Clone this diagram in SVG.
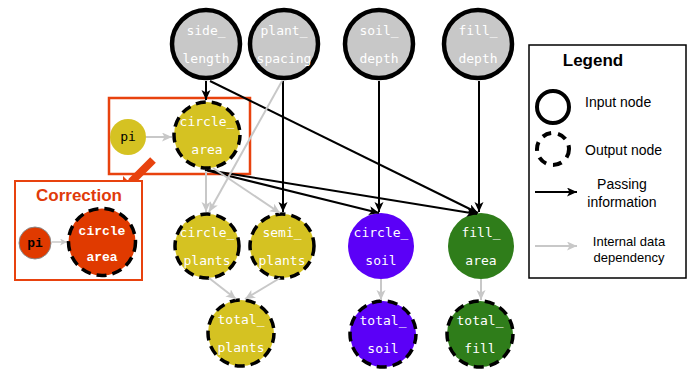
<svg xmlns="http://www.w3.org/2000/svg" width="688" height="372" viewBox="0 0 688 372">
<defs>
<marker id="ab" markerUnits="userSpaceOnUse" markerWidth="11" markerHeight="10" refX="10" refY="4.5" orient="auto">
<path d="M0,0 L10,4.5 L0,9 L2.5,4.5 z" fill="#000"/>
</marker>
<marker id="ag" markerUnits="userSpaceOnUse" markerWidth="11" markerHeight="10" refX="10" refY="4.5" orient="auto">
<path d="M0,0 L10,4.5 L0,9 L2.5,4.5 z" fill="#c8c8c8"/>
</marker>
<marker id="ags" markerUnits="userSpaceOnUse" markerWidth="8" markerHeight="8" refX="7" refY="3.5" orient="auto">
<path d="M0,0 L7,3.5 L0,7 L2,3.5 z" fill="#c8c8c8"/>
</marker>
</defs>
<style>
.in{fill:#c8c8c8;stroke:#000;stroke-width:4.5}
.out{stroke:#000;stroke-width:3.5;stroke-dasharray:10 6}
.y{fill:#d5c222}
.p{fill:#5b00f7}
.g{fill:#2f7d1a}
.lbl{font-family:"DejaVu Sans Mono",monospace;font-size:13px;fill:#fff;text-anchor:middle}
.cl{font-family:"Liberation Mono",monospace;font-size:13px;font-weight:bold;fill:#fff;text-anchor:middle}
.blk{stroke:#000;stroke-width:2;fill:none;marker-end:url(#ab)}
.gry{stroke:#c8c8c8;stroke-width:2;fill:none;marker-end:url(#ag)}
.leg{font-family:"Liberation Sans",Arial,sans-serif;font-size:14px;fill:#000}
</style>
<rect width="688" height="372" fill="#fff"/>

<g id="highlight">
<rect x="109" y="98" width="141" height="76" fill="none" stroke="#e8420e" stroke-width="2.5"/>
<line x1="153" y1="160" x2="131" y2="182" stroke="#e8420e" stroke-width="8"/>
<polygon points="123,193 123,176 140,193" fill="#e8420e"/>
</g>

<g id="correction">
<rect x="15" y="181" width="127" height="99" fill="#fff" stroke="#e8420e" stroke-width="2"/>
<text x="79" y="201" font-family="Liberation Sans,Arial,sans-serif" font-size="17" font-weight="bold" fill="#e03a0a" text-anchor="middle">Correction</text>
<circle cx="35" cy="243" r="16" fill="#e03a00" stroke="#888" stroke-width="1"/>
<text x="35" y="247" font-family="Liberation Mono,monospace" font-size="13" font-weight="bold" fill="#000" text-anchor="middle">pi</text>
<line x1="52" y1="242" x2="67" y2="242" stroke="#c8c8c8" stroke-width="1.5" marker-end="url(#ags)"/>
<circle cx="102" cy="242" r="33.5" fill="#e03a00" class="out"/>
<text x="102" y="235" class="cl">circle</text>
<text x="102" y="261" class="cl">area</text>
</g>

<g id="side_length"><circle cx="206" cy="44" r="34" class="in"/><text x="206" y="35" class="lbl">side_</text><text x="206" y="63" class="lbl">length</text></g>
<g id="plant_spacing"><circle cx="284" cy="44" r="34" class="in"/><text x="284" y="35" class="lbl">plant_</text><text x="284" y="63" class="lbl">spacing</text></g>
<g id="soil_depth"><circle cx="379" cy="44" r="34" class="in"/><text x="379" y="35" class="lbl">soil_</text><text x="379" y="63" class="lbl">depth</text></g>
<g id="fill_depth"><circle cx="478" cy="44" r="34" class="in"/><text x="478" y="35" class="lbl">fill_</text><text x="478" y="63" class="lbl">depth</text></g>

<g id="pi"><circle cx="128" cy="137" r="18" class="y"/><text x="128" y="141" class="lbl" style="fill:#000">pi</text></g>
<g id="circle_area"><circle cx="207" cy="135" r="33" class="y out"/><text x="207" y="126" class="lbl">circle_</text><text x="207" y="154" class="lbl">area</text></g>

<g id="circle_plants"><circle cx="207" cy="246" r="32" class="y out"/><text x="207" y="237" class="lbl">circle_</text><text x="207" y="265" class="lbl">plants</text></g>
<g id="semi_plants"><circle cx="282" cy="246" r="32" class="y out"/><text x="282" y="237" class="lbl">semi_</text><text x="282" y="265" class="lbl">plants</text></g>
<g id="total_plants"><circle cx="241" cy="333" r="33" class="y out"/><text x="241" y="324" class="lbl">total_</text><text x="241" y="352" class="lbl">plants</text></g>
<g id="circle_soil"><circle cx="381" cy="246" r="33" class="p"/><text x="381" y="237" class="lbl">circle_</text><text x="381" y="265" class="lbl">soil</text></g>
<g id="total_soil"><circle cx="383" cy="334" r="33" class="p out"/><text x="383" y="325" class="lbl">total_</text><text x="383" y="353" class="lbl">soil</text></g>
<g id="fill_area"><circle cx="481" cy="246" r="33" class="g"/><text x="481" y="237" class="lbl">fill_</text><text x="481" y="265" class="lbl">area</text></g>
<g id="total_fill"><circle cx="480" cy="334" r="33" class="g out"/><text x="480" y="325" class="lbl">total_</text><text x="480" y="353" class="lbl">fill</text></g>

<g id="connectors">
<line x1="206" y1="81" x2="206" y2="100" class="blk"/>
<line x1="210" y1="81" x2="478" y2="213" class="blk"/>
<line x1="283" y1="81" x2="283" y2="212" class="blk"/>
<line x1="379" y1="81" x2="379" y2="212" class="blk"/>
<line x1="479" y1="81" x2="479" y2="212" class="blk"/>
<line x1="205" y1="170" x2="379" y2="213" class="blk"/>
<line x1="207" y1="170" x2="477" y2="214" class="blk"/>
<line x1="146" y1="137" x2="172" y2="137" class="gry"/>
<line x1="206" y1="171" x2="206" y2="212" class="gry"/>
<line x1="213" y1="168" x2="280" y2="213" class="gry"/>
<line x1="282" y1="81" x2="209" y2="212" class="gry"/>
<line x1="209" y1="278" x2="236" y2="299" class="gry"/>
<line x1="280" y1="278" x2="245" y2="299" class="gry"/>
<line x1="381" y1="279" x2="381" y2="300" class="gry"/>
<line x1="481" y1="279" x2="481" y2="300" class="gry"/>
</g>

<g id="legend">
<rect x="529" y="45" width="157" height="233" fill="#fff" stroke="#000" stroke-width="1.5"/>
<text x="593" y="66" class="leg" font-weight="bold" text-anchor="middle" style="font-size:17px">Legend</text>
<circle cx="553" cy="107" r="16" fill="none" stroke="#000" stroke-width="4"/>
<text x="585" y="107" class="leg">Input node</text>
<circle cx="553" cy="149" r="16" fill="none" stroke="#000" stroke-width="4" stroke-dasharray="9 7"/>
<text x="585" y="155" class="leg">Output node</text>
<line x1="535" y1="192" x2="577" y2="192" class="blk"/>
<text x="622" y="189" class="leg" text-anchor="middle">Passing</text>
<text x="622" y="207" class="leg" text-anchor="middle">information</text>
<line x1="535" y1="246" x2="577" y2="246" class="gry"/>
<text x="629" y="246" class="leg" text-anchor="middle" style="font-size:13px">Internal data</text>
<text x="629" y="262" class="leg" text-anchor="middle" style="font-size:13px">dependency</text>
</g>
</svg>
